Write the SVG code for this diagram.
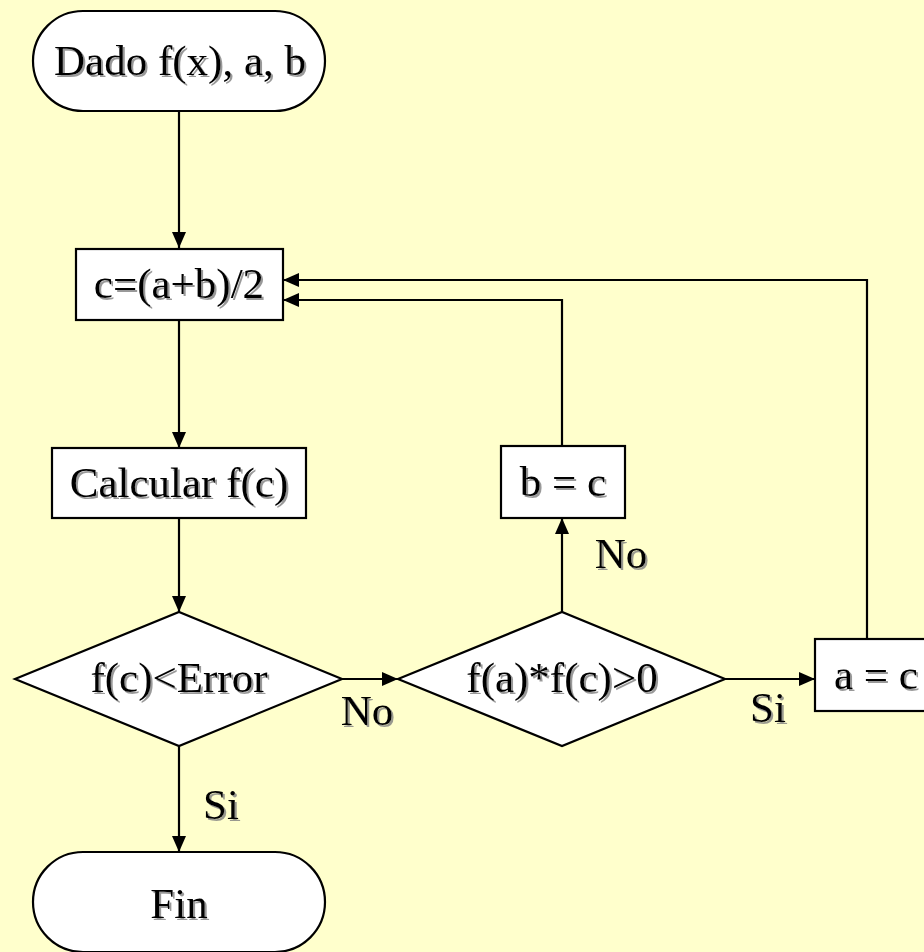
<svg xmlns="http://www.w3.org/2000/svg" width="924" height="952" viewBox="0 0 924 952">
  <defs>
    <marker id="arrow" markerUnits="userSpaceOnUse" viewBox="0 0 16 14" markerWidth="16" markerHeight="14" refX="16" refY="7" orient="auto">
      <path d="M0,0 L16,7 L0,14 Z" fill="#000"/>
    </marker>
    <filter id="shadow" x="-10%" y="-10%" width="130%" height="140%">
      <feDropShadow dx="2" dy="2" stdDeviation="0.6" flood-color="#808080" flood-opacity="0.8"/>
    </filter>
    <style>
      .shape { fill: #ffffff; stroke: #000; stroke-width: 2.2; }
      .conn { fill: none; stroke: #000; stroke-width: 2.2; }
      .label { font-family: "Liberation Serif", "Times New Roman", serif; font-size: 43px; fill: #000; text-anchor: middle; filter: url(#shadow); }
    </style>
  </defs>
  <rect x="0" y="0" width="924" height="952" fill="#FFFFCC"/>

  <g id="connectors">
    <path class="conn" d="M179,111 V248" marker-end="url(#arrow)"/>
    <path class="conn" d="M179,320 V448" marker-end="url(#arrow)"/>
    <path class="conn" d="M179,518 V612" marker-end="url(#arrow)"/>
    <path class="conn" d="M179,746 V852" marker-end="url(#arrow)"/>
    <path class="conn" d="M342,679 H398" marker-end="url(#arrow)"/>
    <path class="conn" d="M725,679 H815" marker-end="url(#arrow)"/>
    <path class="conn" d="M562,612 V518" marker-end="url(#arrow)"/>
    <path class="conn" d="M562,446 V300 H283" marker-end="url(#arrow)"/>
    <path class="conn" d="M867,639 V280 H283" marker-end="url(#arrow)"/>
    <text class="label" x="367" y="725">No</text>
    <text class="label" x="768" y="722">Si</text>
    <text class="label" x="621" y="568">No</text>
    <text class="label" x="221" y="819">Si</text>
  </g>

  <g id="start">
    <rect class="shape" x="33" y="11" width="292" height="100" rx="50" ry="50"/>
    <text class="label" x="180" y="75">Dado f(x), a, b</text>
  </g>

  <g id="midpoint">
    <rect class="shape" x="76" y="249" width="207" height="71"/>
    <text class="label" x="179" y="298">c=(a+b)/2</text>
  </g>

  <g id="calc">
    <rect class="shape" x="52" y="448" width="254" height="70"/>
    <text class="label" x="179" y="497">Calcular f(c)</text>
  </g>

  <g id="decision1">
    <polygon class="shape" points="15,679 179,612 342,679 179,746"/>
    <text class="label" x="179" y="692">f(c)&lt;Error</text>
  </g>

  <g id="decision2">
    <polygon class="shape" points="398,679 562,612 725,679 562,746"/>
    <text class="label" x="562" y="692">f(a)*f(c)&gt;0</text>
  </g>

  <g id="bc">
    <rect class="shape" x="501" y="446" width="124" height="72"/>
    <text class="label" x="563" y="496">b = c</text>
  </g>

  <g id="ac">
    <rect class="shape" x="815" y="639" width="125" height="72"/>
    <text class="label" x="876" y="689">a = c</text>
  </g>

  <g id="end">
    <rect class="shape" x="33" y="852" width="292" height="100" rx="50" ry="50"/>
    <text class="label" x="179" y="918">Fin</text>
  </g>
</svg>
